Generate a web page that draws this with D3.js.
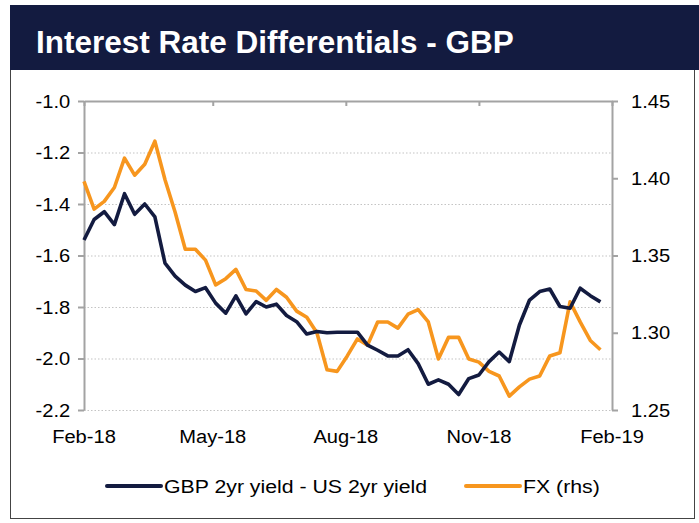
<!DOCTYPE html>
<html>
<head>
<meta charset="utf-8">
<script src="https://cdn.jsdelivr.net/npm/d3@7"></script>
<style>
  body { margin: 0; background: #fff; }
  text { font-family: "Liberation Sans", Arial, sans-serif; }
</style>
</head>
<body>
<svg id="chart" width="699" height="523"></svg>
<script>
// weekly observations, Feb-18 to Jan-19
const dates = [
  "2018-02-01", "2018-02-08", "2018-02-15", "2018-02-22", "2018-03-01", "2018-03-08",
  "2018-03-15", "2018-03-22", "2018-03-29", "2018-04-05", "2018-04-12", "2018-04-19",
  "2018-04-26", "2018-05-03", "2018-05-10", "2018-05-17", "2018-05-24", "2018-05-31",
  "2018-06-07", "2018-06-14", "2018-06-21", "2018-06-28", "2018-07-05", "2018-07-12",
  "2018-07-19", "2018-07-26", "2018-08-02", "2018-08-09", "2018-08-16", "2018-08-23",
  "2018-08-30", "2018-09-06", "2018-09-13", "2018-09-20", "2018-09-27", "2018-10-04",
  "2018-10-11", "2018-10-18", "2018-10-25", "2018-11-01", "2018-11-08", "2018-11-15",
  "2018-11-22", "2018-11-29", "2018-12-06", "2018-12-13", "2018-12-20", "2018-12-27",
  "2019-01-03", "2019-01-10", "2019-01-17", "2019-01-24"
];

// GBP 2yr yield - US 2yr yield (lhs)
const spread = [
  -1.54, -1.46, -1.43, -1.48, -1.36, -1.44, -1.40, -1.45, -1.63, -1.68, -1.715, -1.74,
  -1.725, -1.785, -1.824, -1.757, -1.827, -1.779, -1.80, -1.789, -1.833, -1.857, -1.905, -1.895,
  -1.90, -1.898, -1.898, -1.898, -1.948, -1.968, -1.99, -1.99, -1.966, -2.02, -2.10, -2.083,
  -2.10, -2.14, -2.078, -2.064, -2.012, -1.975, -2.012, -1.87, -1.773, -1.74, -1.73, -1.798,
  -1.805, -1.727, -1.756, -1.78
];

// GBPUSD (rhs)
const fx = [
  1.398, 1.380, 1.385, 1.394, 1.413, 1.402, 1.409, 1.424, 1.399, 1.378, 1.354, 1.354,
  1.347, 1.331, 1.335, 1.341, 1.328, 1.327, 1.321, 1.328, 1.323, 1.314, 1.310, 1.300,
  1.276, 1.275, 1.285, 1.296, 1.292, 1.307, 1.307, 1.303, 1.312, 1.315, 1.307, 1.283,
  1.297, 1.297, 1.283, 1.281, 1.275, 1.272, 1.259, 1.265, 1.270, 1.272, 1.285, 1.287,
  1.320, 1.307, 1.295, 1.289
];

const leftTicks = [-1.0, -1.2, -1.4, -1.6, -1.8, -2.0, -2.2];
const rightTicks = [1.45, 1.40, 1.35, 1.30, 1.25];
const monthTicks = ["2018-02-01", "2018-05-01", "2018-08-01", "2018-11-01", "2019-02-01"];

const navy = "#131b40";
const orange = "#f7961e";
const axisGrey = "#a3a3a3";
const sx = 1.06; // text in the original is a little wide

const parse = d3.timeParse("%Y-%m-%d");
const plot = { left: 84, right: 612, top: 101, bottom: 410 };

const svg = d3.select("#chart");

// outer frame
svg.append("rect")
  .attr("x", 10.5).attr("y", 40.5)
  .attr("width", 684).attr("height", 478)
  .attr("fill", "#fff")
  .attr("stroke", "#444")
  .attr("stroke-width", 1);

// title banner
svg.append("rect")
  .attr("x", 10).attr("y", 5)
  .attr("width", 689).attr("height", 65)
  .attr("fill", navy);

svg.append("text")
  .attr("x", 36).attr("y", 53)
  .attr("fill", "#fff")
  .style("font-size", "31.5px")
  .style("font-weight", "bold")
  .text("Interest Rate Differentials - GBP");

// scales
const x = d3.scaleTime()
  .domain([parse("2018-02-01"), parse("2019-02-01")])
  .range([plot.left, plot.right]);

const yL = d3.scaleLinear().domain([-2.2, -1.0]).range([plot.bottom, plot.top]);
const yR = d3.scaleLinear().domain([1.25, 1.45]).range([plot.bottom, plot.top]);

// dotted gridlines
svg.append("g")
  .selectAll("line")
  .data(leftTicks.slice(1))
  .enter()
  .append("line")
  .attr("x1", plot.left).attr("x2", plot.right)
  .attr("y1", (d) => yL(d) + 0.5).attr("y2", (d) => yL(d) + 0.5)
  .attr("stroke", "#c4c4c4")
  .attr("stroke-width", 1.2)
  .attr("stroke-dasharray", "1.5,2");

// x axis line sits on the top edge, ticks point down
const xAxis = svg.append("g")
  .attr("transform", `translate(0,${plot.top})`)
  .call(d3.axisBottom(x)
    .tickValues(monthTicks.map(parse))
    .tickSize(5)
    .tickSizeOuter(0)
    .tickFormat(""));
xAxis.select(".domain").attr("stroke", axisGrey).attr("stroke-width", 2);
xAxis.selectAll(".tick line").attr("stroke", axisGrey).attr("stroke-width", 2);

// x labels along the bottom
svg.append("g")
  .selectAll("text")
  .data(monthTicks.map(parse))
  .enter()
  .append("text")
  .attr("transform", (d) => `translate(${x(d)},443) scale(${sx},1)`)
  .attr("text-anchor", "middle")
  .attr("fill", "#000")
  .style("font-size", "19px")
  .text(d3.timeFormat("%b-%y"));

// left axis
const leftAxis = svg.append("g")
  .attr("transform", `translate(${plot.left},0)`)
  .call(d3.axisLeft(yL)
    .tickValues(leftTicks)
    .tickSize(6)
    .tickSizeOuter(0)
    .tickPadding(7)
    .tickFormat(d3.format(".1f")));
leftAxis.select(".domain").attr("stroke", axisGrey).attr("stroke-width", 2);
leftAxis.selectAll(".tick line").attr("stroke", axisGrey).attr("stroke-width", 2);
leftAxis.selectAll(".tick text")
  .attr("transform", `scale(${sx},1)`)
  .attr("fill", "#000")
  .style("font-size", "19px")
  .text((d) => d3.format(".1f")(d).replace("−", "-"));

// right axis
const rightAxis = svg.append("g")
  .attr("transform", `translate(${plot.right},0)`)
  .call(d3.axisRight(yR)
    .tickValues(rightTicks)
    .tickSize(6)
    .tickSizeOuter(0)
    .tickPadding(12)
    .tickFormat(d3.format(".2f")));
rightAxis.select(".domain").attr("stroke", axisGrey).attr("stroke-width", 2);
rightAxis.selectAll(".tick line").attr("stroke", axisGrey).attr("stroke-width", 2);
rightAxis.selectAll(".tick text")
  .attr("transform", `scale(${sx},1)`)
  .attr("fill", "#000")
  .style("font-size", "19px");

// series
const spreadLine = d3.line()
  .x((d, i) => x(parse(dates[i])))
  .y((d) => yL(d));

const fxLine = d3.line()
  .x((d, i) => x(parse(dates[i])))
  .y((d) => yR(d));

svg.append("path")
  .datum(fx)
  .attr("d", fxLine)
  .attr("fill", "none")
  .attr("stroke", orange)
  .attr("stroke-width", 3.6)
  .attr("stroke-linejoin", "round");

svg.append("path")
  .datum(spread)
  .attr("d", spreadLine)
  .attr("fill", "none")
  .attr("stroke", navy)
  .attr("stroke-width", 3.6)
  .attr("stroke-linejoin", "round");

// legend
const legendItems = [
  { label: "GBP 2yr yield - US 2yr yield", color: navy, x: 107 },
  { label: "FX (rhs)", color: orange, x: 466 }
];

const legend = svg.append("g")
  .selectAll("g")
  .data(legendItems)
  .enter()
  .append("g")
  .attr("transform", (d) => `translate(${d.x},486)`);

legend.append("line")
  .attr("x1", 0).attr("x2", 54)
  .attr("stroke", (d) => d.color)
  .attr("stroke-width", 4)
  .attr("stroke-linecap", "round");

legend.append("text")
  .attr("transform", "translate(57,7) scale(1.12,1)")
  .attr("fill", "#000")
  .style("font-size", "19px")
  .text((d) => d.label);
</script>
</body>
</html>
